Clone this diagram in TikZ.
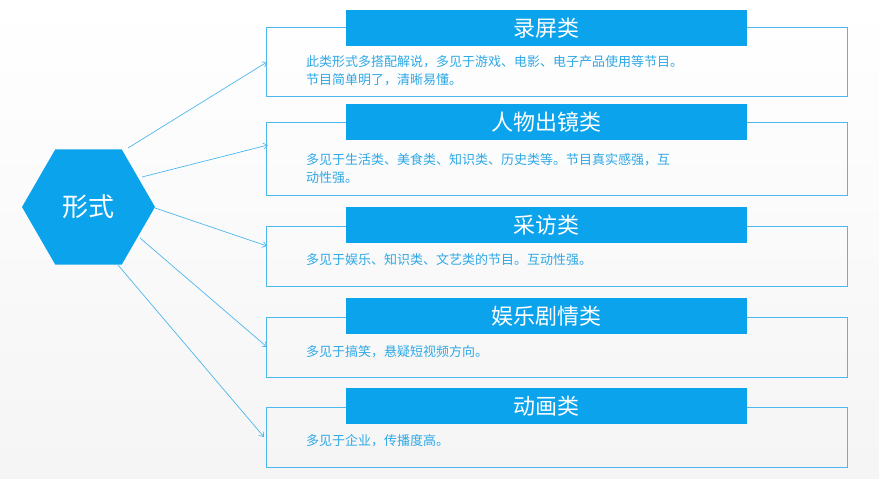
\documentclass[tikz,border=0pt]{standalone}
\usepackage{fontspec}
\setmainfont{Noto Sans CJK SC}
\usetikzlibrary{shapes.geometric,arrows.meta}
\definecolor{cb}{HTML}{0BA3EC}
\definecolor{ct}{HTML}{2EA8E6}
\definecolor{cl}{HTML}{4DB8EE}
\begin{document}
\begin{tikzpicture}[x=1pt,y=-1pt,
 box/.style={draw=cl,line width=0.8pt,minimum width=581pt,anchor=north west,inner sep=0},
 ttl/.style={fill=cb,minimum width=401pt,minimum height=36pt,anchor=north west,inner sep=0,text=white,font=\fontsize{22}{24}\selectfont},
 desc/.style={anchor=west,text=ct,font=\fontsize{13}{18}\selectfont,align=left,inner sep=0},
 con/.style={draw=cl,line width=0.7pt,-{Straight Barb[length=4pt,width=6pt]}}]
\useasboundingbox[top color=white,bottom color=black!4] (0,0) rectangle (879,479);
\node[regular polygon,regular polygon sides=6,minimum size=133pt,inner sep=0,fill=cb,text=white,font=\fontsize{26}{28}\selectfont] (hex) at (88.5,207) {形式};
\foreach \i/\y/\h/\t in {1/27/69/46,2/122/73/140,3/226/60/243,4/317/60/334,5/407/60/424}{
 \node[box,minimum height=\h pt] (b\i) at (266,\y) {};
}
\node[ttl] (t1) at (346,10) {录屏类};
\node[ttl] (t2) at (346,104) {人物出镜类};
\node[ttl] (t3) at (346,207) {采访类};
\node[ttl] (t4) at (346,298) {娱乐剧情类};
\node[ttl] (t5) at (346,388) {动画类};
\node[desc] (d1) at (306,71) {此类形式多搭配解说，多见于游戏、电影、电子产品使用等节目。\\节目简单明了，清晰易懂。};
\node[desc] (d2) at (306,169) {多见于生活类、美食类、知识类、历史类等。节目真实感强，互\\动性强。};
\node[desc] (d3) at (306,260) {多见于娱乐、知识类、文艺类的节目。互动性强。};
\node[desc] (d4) at (306,352) {多见于搞笑，悬疑短视频方向。};
\node[desc] (d5) at (306,441) {多见于企业，传播度高。};
\coordinate (e1) at (267,62);
\coordinate (e2) at (268,145);
\coordinate (e3) at (267,246);
\coordinate (e4) at (267,347);
\coordinate (e5) at (264,437);
\coordinate (s1) at (128,148);
\coordinate (s2) at (142,177);
\coordinate (s3) at (155,208);
\coordinate (s4) at (140,238);
\coordinate (s5) at (118,265);
\foreach \i in {1,...,5}{\draw[con] (s\i) -- (e\i);}
\end{tikzpicture}
\end{document}
